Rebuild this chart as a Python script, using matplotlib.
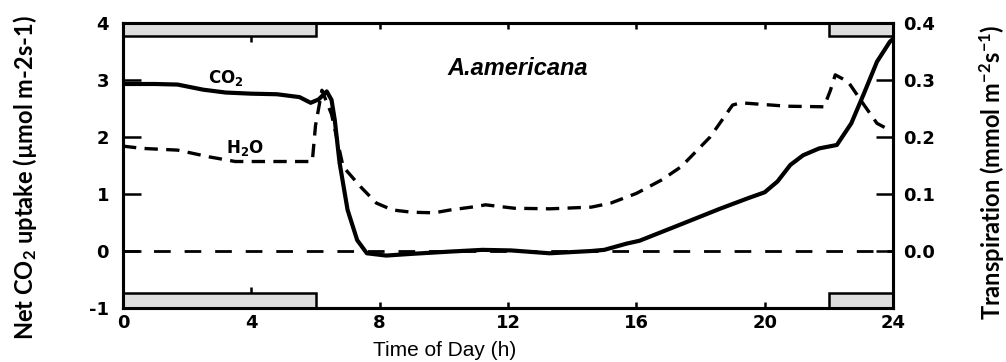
import matplotlib
matplotlib.use("Agg")
import matplotlib.pyplot as plt
from matplotlib.patches import Rectangle

# ---- data ----
co2_hours = [0, 1.0, 1.7, 2.5, 3.2, 4.0, 4.8, 5.5, 5.85, 6.1, 6.35, 6.5, 6.6, 6.75,
             7.0, 7.3, 7.6, 8.2, 9.0, 10.2, 11.2, 12.1, 13.3, 14.6, 15.0, 15.7, 16.1,
             17.4, 18.6, 19.5, 20.0, 20.4, 20.8, 21.2, 21.7, 22.25, 22.7, 23.1, 23.5,
             23.9, 24.0]
co2_uptake = [2.93, 2.93, 2.92, 2.83, 2.78, 2.76, 2.75, 2.70, 2.60, 2.66, 2.80, 2.65,
              2.3, 1.55, 0.72, 0.19, -0.04, -0.08, -0.05, -0.01, 0.02, 0.01, -0.04,
              0.0, 0.02, 0.13, 0.18, 0.47, 0.74, 0.93, 1.03, 1.22, 1.51, 1.68, 1.80,
              1.86, 2.24, 2.77, 3.32, 3.67, 3.72]

h2o_hours = [0, 0.6, 1.7, 2.7, 3.5, 4.5, 5.9, 6.0, 6.2, 6.5, 6.86, 7.4, 7.9, 8.4, 9.0,
             9.7, 10.2, 11.0, 11.3, 12.2, 13.3, 14.6, 15.2, 16.0, 16.8, 17.4, 18.3,
             19.0, 19.25, 20.7, 21.85, 22.05, 22.2, 22.6, 23.1, 23.5, 23.9]
h2o_transp = [0.184, 0.180, 0.177, 0.165, 0.157, 0.157, 0.157, 0.22, 0.282, 0.24,
              0.148, 0.113, 0.084, 0.072, 0.068, 0.067, 0.072, 0.078, 0.081, 0.075,
              0.074, 0.077, 0.084, 0.101, 0.125, 0.148, 0.200, 0.256, 0.260, 0.254,
              0.253, 0.282, 0.309, 0.297, 0.256, 0.224, 0.212]

dark_periods = [(0, 6), (22, 24)]
x_ticks = [0, 4, 8, 12, 16, 20, 24]
y_left_ticks = [-1, 0, 1, 2, 3, 4]
y_right_ticks = [0.0, 0.1, 0.2, 0.3, 0.4]

plt.rcParams['mathtext.default'] = 'regular'

fig = plt.figure(figsize=(10.06, 3.62), dpi=100)
ax = fig.add_axes([123/1006, 1-308/362, 770/1006, 285/362])
ax2 = ax.twinx()

ax.set_xlim(0, 24)
ax.set_ylim(-1, 4)
ax2.set_ylim(-0.1, 0.4)

# dark-period bands
top_band, bot_band = 0.22, 0.26
for (a, b) in dark_periods:
    ax.add_patch(Rectangle((a, 4 - top_band), b - a, top_band, facecolor='#dedede',
                           edgecolor='black', linewidth=1.8, zorder=3))
    ax.add_patch(Rectangle((a, -1), b - a, bot_band, facecolor='#dedede',
                           edgecolor='black', linewidth=1.8, zorder=3))
# small ticks hanging from the bands at 4 h
ax.vlines([x_ticks[1]], 4 - top_band - 0.12, 4 - top_band, color='black', linewidth=1.8, zorder=3)
ax.vlines([x_ticks[1]], -1 + bot_band, -1 + bot_band + 0.1, color='black', linewidth=1.8, zorder=3)

ax.axhline(0, color='black', linestyle=(0, (6, 5)), linewidth=2.0, zorder=2)
ax.plot(co2_hours, co2_uptake, color='black', linewidth=3.0, zorder=4,
        solid_joinstyle='round')
ax2.plot(h2o_hours, h2o_transp, color='black', linewidth=2.4,
         linestyle=(0, (4, 2.5)), zorder=4)

for s in ax.spines.values():
    s.set_linewidth(2.2)
for s in ax2.spines.values():
    s.set_linewidth(2.2)

tick_font = dict(family='DejaVu Sans', weight='bold', size=13)
ax.set_xticks(x_ticks)
ax.set_xticklabels([str(t) for t in x_ticks], **tick_font)
ax.set_yticks(y_left_ticks)
ax.set_yticklabels([str(t) for t in y_left_ticks], **tick_font)
ax2.set_yticks(y_right_ticks)
ax2.set_yticklabels([f"{t:.1f}" for t in y_right_ticks], **tick_font)

ax.tick_params(axis='y', direction='in', length=13, width=1.8, pad=10)
ax.tick_params(axis='x', direction='in', length=4, width=1.8, pad=4, top=True)
ax2.tick_params(axis='y', direction='in', length=12, width=1.8, pad=7)

ax.text(3.2, 3.03, "CO$_2$", fontsize=12, fontweight='bold', ha='center', va='center')
ax.text(3.8, 1.80, "H$_2$O", fontsize=12, fontweight='bold', ha='center', va='center')
ax.text(12.3, 3.2, "A.americana", fontsize=17, fontweight='bold', style='italic',
        family='Liberation Sans', ha='center', va='center')

fig.text(25/1006, 1-178/362, "Net CO$_2$ uptake (\u00b5mol m-2s-1)", rotation=90,
         ha='center', va='center', fontsize=17, fontweight='bold', family='Lato')
fig.text(992/1006, 1-172/362, "Transpiration (mmol m$^{-2}$s$^{-1}$)", rotation=90,
         ha='center', va='center', fontsize=17, fontweight='bold', family='Lato')
fig.text(445/1006, 1-351/362, "Time of Day (h)", ha='center', va='center',
         fontsize=15, family='Liberation Sans')

fig.savefig("out.png", dpi=100)
